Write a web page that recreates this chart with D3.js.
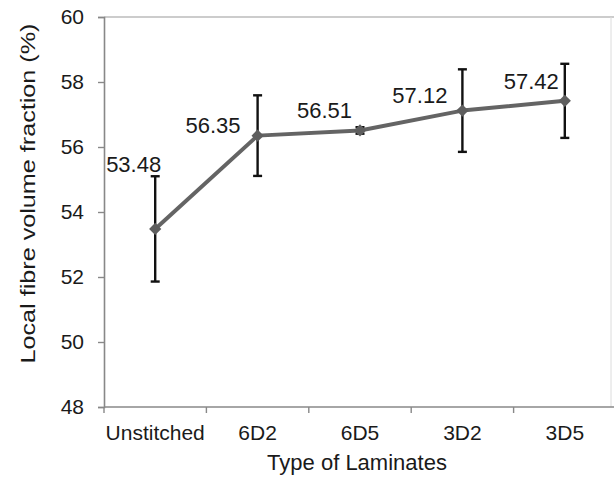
<!DOCTYPE html>
<html>
<head>
<meta charset="utf-8">
<script src="https://cdn.jsdelivr.net/npm/d3@7"></script>
<style>
  body { margin: 0; background: #fff; }
  svg { display: block; font-family: "Liberation Sans", Arial, sans-serif; }
</style>
</head>
<body>
<div class="graph"></div>
<script>
// data
var laminates = ['Unstitched', '6D2', '6D5', '3D2', '3D5'],
    fibreFraction = [53.48, 56.35, 56.51, 57.12, 57.42],
    errorSize = [1.62, 1.24, 0.1, 1.27, 1.14],
    yTicks = [48, 50, 52, 54, 56, 58, 60];

// label nudges in px (dx from point to right end of label, dy from point to baseline)
var labelNudge = [[6, -57], [-17, -3], [-8, -12], [-15, -8], [-6, -12]];

var width = 614, height = 477,
    margin = {top: 17, left: 104, bottom: 70},
    plotRight = 611;

var x = d3.scaleBand().domain(laminates).range([margin.left, margin.left + 5 * 102.4]),
    y = d3.scaleLinear().domain([48, 60]).range([height - margin.bottom, margin.top]);

var svg = d3.select('.graph')
            .append('svg')
            .attr('width', width)
            .attr('height', height);

// frame lines top and right
svg.append('line')
   .attr('x1', margin.left).attr('x2', width)
   .attr('y1', y(60)).attr('y2', y(60))
   .attr('stroke', '#9a9a9a').attr('stroke-width', 1.2);
svg.append('line')
   .attr('x1', plotRight).attr('x2', plotRight)
   .attr('y1', y(60)).attr('y2', y(48))
   .attr('stroke', '#dcdcdc').attr('stroke-width', 1);

// y axis
var yAxis = d3.axisLeft(y).tickValues(yTicks).tickSize(6).tickPadding(14).tickFormat(d3.format('d'));
var gy = svg.append('g')
            .attr('transform', 'translate(' + margin.left + ',0)')
            .call(yAxis);
gy.select('.domain').attr('stroke', '#888').attr('stroke-width', 1.6);
gy.selectAll('.tick line').attr('stroke', '#888').attr('stroke-width', 1.4);
gy.selectAll('.tick text')
  .attr('fill', '#1a1a1a')
  .style('font-size', '21px');

// x axis: ticks at band boundaries
svg.append('line')
   .attr('x1', margin.left).attr('x2', width)
   .attr('y1', y(48)).attr('y2', y(48))
   .attr('stroke', '#888').attr('stroke-width', 1.6);
var edges = laminates.map(function(d) { return x(d); }).concat([x(laminates[4]) + x.bandwidth()]);
svg.selectAll('.xtick')
   .data(edges)
   .enter()
   .append('line')
   .attr('class', 'xtick')
   .attr('x1', function(d) { return d; })
   .attr('x2', function(d) { return d; })
   .attr('y1', y(48))
   .attr('y2', y(48) + 6)
   .attr('stroke', '#888')
   .attr('stroke-width', 1.4);
svg.selectAll('.xlabel')
   .data(laminates)
   .enter()
   .append('text')
   .attr('class', 'xlabel')
   .attr('x', function(d) { return x(d) + x.bandwidth() / 2; })
   .attr('y', y(48) + 33)
   .attr('text-anchor', 'middle')
   .attr('fill', '#1a1a1a')
   .style('font-size', '21px')
   .text(function(d) { return d; });

// axis titles
svg.append('text')
   .attr('x', 357)
   .attr('y', 470)
   .attr('text-anchor', 'middle')
   .attr('fill', '#1a1a1a')
   .style('font-size', '22px')
   .text('Type of Laminates');

svg.append('text')
   .attr('transform', 'translate(35,' + 193.5 + ') rotate(-90)')
   .attr('text-anchor', 'middle')
   .attr('fill', '#1a1a1a')
   .attr('textLength', 340)
   .attr('lengthAdjust', 'spacingAndGlyphs')
   .style('font-size', '21px')
   .text('Local fibre volume fraction (%)');

var cx = function(i) { return x(laminates[i]) + x.bandwidth() / 2; };

// error bars
var err = svg.selectAll('.err')
             .data(fibreFraction)
             .enter()
             .append('g')
             .attr('class', 'err')
             .attr('stroke', '#111')
             .attr('stroke-width', 2.4);
err.append('line')
   .attr('x1', function(d, i) { return cx(i); })
   .attr('x2', function(d, i) { return cx(i); })
   .attr('y1', function(d, i) { return y(d + errorSize[i]); })
   .attr('y2', function(d, i) { return y(d - errorSize[i]); });
[1, -1].forEach(function(s) {
  err.append('line')
     .attr('x1', function(d, i) { return cx(i) - 4.5; })
     .attr('x2', function(d, i) { return cx(i) + 4.5; })
     .attr('y1', function(d, i) { return y(d + s * errorSize[i]); })
     .attr('y2', function(d, i) { return y(d + s * errorSize[i]); });
});

// line
var line = d3.line()
             .x(function(d, i) { return cx(i); })
             .y(function(d) { return y(d); });
svg.append('path')
   .datum(fibreFraction)
   .attr('d', line)
   .attr('fill', 'none')
   .attr('stroke', '#646464')
   .attr('stroke-width', 4)
   .attr('stroke-linejoin', 'round');

// diamond markers
svg.selectAll('.marker')
   .data(fibreFraction)
   .enter()
   .append('path')
   .attr('class', 'marker')
   .attr('d', d3.symbol().type(d3.symbolDiamond2).size(95))
   .attr('transform', function(d, i) { return 'translate(' + cx(i) + ',' + y(d) + ')'; })
   .attr('fill', '#5e5e5e');

// data labels
svg.selectAll('.vlabel')
   .data(fibreFraction)
   .enter()
   .append('text')
   .attr('class', 'vlabel')
   .attr('x', function(d, i) { return cx(i) + labelNudge[i][0]; })
   .attr('y', function(d, i) { return y(d) + labelNudge[i][1]; })
   .attr('text-anchor', 'end')
   .attr('fill', '#1a1a1a')
   .style('font-size', '22px')
   .text(function(d) { return d3.format('.2f')(d); });
</script>
</body>
</html>
